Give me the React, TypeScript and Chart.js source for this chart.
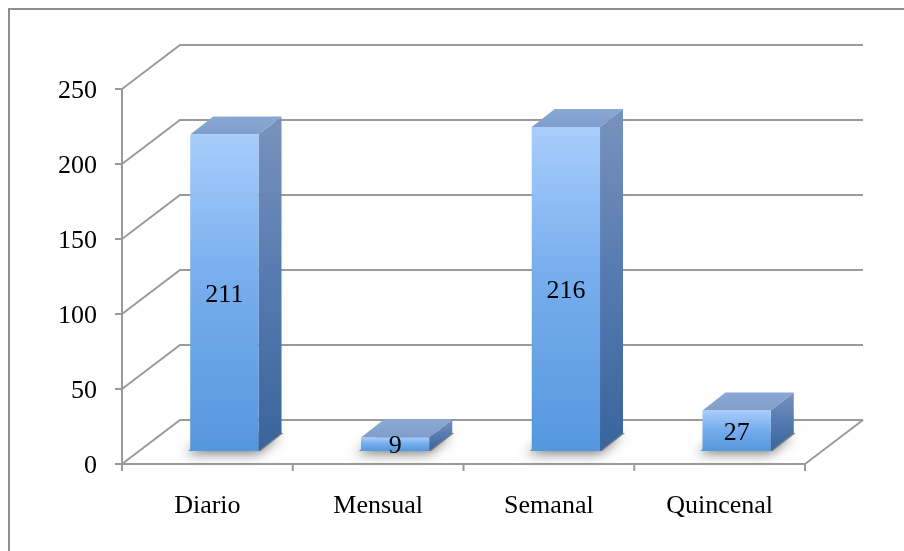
import React, { useEffect, useRef } from "react";
import { Chart, registerables } from "chart.js";

Chart.register(...registerables);

const categories = ["Diario", "Mensual", "Semanal", "Quincenal"];
const values = [211, 9, 216, 27];
const yTicks = [0, 50, 100, 150, 200, 250];

const FONT = '"Liberation Serif", "Times New Roman", serif';
const WALL_DX = 58;
const WALL_DY = 44;
const BAR_FX = 17;
const BAR_FY = 13;
const BAR_DX = 23;
const BAR_DY = 18;
const GRID = "#9a9a9a";

const threeD = {
  id: "threeD",
  beforeDatasetsDraw(chart: any) {
    const ctx = chart.ctx as CanvasRenderingContext2D;
    const a = chart.chartArea;
    const ys = chart.scales.y;
    const xs = chart.scales.x;
    ctx.save();
    // outer frame
    ctx.strokeStyle = "#8e8e8e";
    ctx.lineWidth = 2;
    ctx.beginPath();
    ctx.moveTo(9, 551);
    ctx.lineTo(9, 9);
    ctx.lineTo(904, 9);
    ctx.stroke();

    ctx.strokeStyle = GRID;
    ctx.lineWidth = 2;
    ctx.lineCap = "butt";
    // walls
    yTicks.forEach((t) => {
      const y = ys.getPixelForValue(t);
      ctx.beginPath();
      ctx.moveTo(a.left, y);
      ctx.lineTo(a.left + WALL_DX, y - WALL_DY);
      ctx.lineTo(a.right + WALL_DX, y - WALL_DY);
      ctx.stroke();
    });
    // floor right edge
    ctx.beginPath();
    ctx.moveTo(a.right, a.bottom);
    ctx.lineTo(a.right + WALL_DX, a.bottom - WALL_DY);
    ctx.stroke();
    // y axis line + ticks
    ctx.beginPath();
    ctx.moveTo(a.left, ys.getPixelForValue(yTicks[yTicks.length - 1]));
    ctx.lineTo(a.left, a.bottom);
    yTicks.forEach((t) => {
      const y = ys.getPixelForValue(t);
      ctx.moveTo(a.left - 7, y);
      ctx.lineTo(a.left, y);
    });
    ctx.stroke();
    // x axis line + ticks
    const half = (xs.getPixelForValue(1) - xs.getPixelForValue(0)) / 2;
    ctx.beginPath();
    ctx.moveTo(a.left - 7, a.bottom);
    ctx.lineTo(a.right, a.bottom);
    for (let i = 0; i <= categories.length; i++) {
      const x = xs.getPixelForValue(i) - half;
      ctx.moveTo(x, a.bottom);
      ctx.lineTo(x, a.bottom + 7);
    }
    ctx.stroke();

    // labels
    ctx.fillStyle = "#000";
    ctx.font = `26px ${FONT}`;
    ctx.textAlign = "right";
    ctx.textBaseline = "middle";
    yTicks.forEach((t) => {
      ctx.fillText(String(t), a.left - 25, ys.getPixelForValue(t) + 2);
    });
    ctx.textAlign = "center";
    categories.forEach((c, i) => {
      ctx.fillText(c, xs.getPixelForValue(i), a.bottom + 42);
    });
    ctx.restore();
  },
  afterDatasetsDraw(chart: any) {
    const ctx = chart.ctx as CanvasRenderingContext2D;
    const meta = chart.getDatasetMeta(0);
    ctx.save();
    meta.data.forEach((el: any, i: number) => {
      const p = el.getProps(["x", "y", "base", "width"], true);
      const w = p.width;
      const x0 = p.x - w / 2 + BAR_FX;
      const x1 = x0 + w;
      const yb = p.base - BAR_FY;
      const yt = p.y - BAR_FY;

      // shadow
      ctx.save();
      ctx.shadowColor = "rgba(0,0,0,0.5)";
      ctx.shadowBlur = 12;
      ctx.shadowOffsetX = -3;
      ctx.shadowOffsetY = 3;
      ctx.fillStyle = "rgba(130,130,130,1)";
      ctx.beginPath();
      ctx.moveTo(x0 - 2, yb);
      ctx.lineTo(x1 + 2, yb);
      ctx.lineTo(x1 + BAR_DX + 2, yb - BAR_DY);
      ctx.lineTo(x0 + BAR_DX - 2, yb - BAR_DY);
      ctx.closePath();
      ctx.fill();
      ctx.restore();

      // side face
      const gs = ctx.createLinearGradient(0, yt - BAR_DY, 0, yb);
      gs.addColorStop(0, "#7892bc");
      gs.addColorStop(0.5, "#557ab0");
      gs.addColorStop(1, "#39649c");
      ctx.fillStyle = gs;
      ctx.beginPath();
      ctx.moveTo(x1, yt);
      ctx.lineTo(x1 + BAR_DX, yt - BAR_DY);
      ctx.lineTo(x1 + BAR_DX, yb - BAR_DY);
      ctx.lineTo(x1, yb);
      ctx.closePath();
      ctx.fill();

      // top face
      const gt = ctx.createLinearGradient(0, yt - BAR_DY, 0, yt);
      gt.addColorStop(0, "#8aa8d3");
      gt.addColorStop(1, "#7f9ecb");
      ctx.fillStyle = gt;
      ctx.beginPath();
      ctx.moveTo(x0, yt);
      ctx.lineTo(x0 + BAR_DX, yt - BAR_DY);
      ctx.lineTo(x1 + BAR_DX, yt - BAR_DY);
      ctx.lineTo(x1, yt);
      ctx.closePath();
      ctx.fill();

      // front face
      const gf = ctx.createLinearGradient(0, yt, 0, yb);
      gf.addColorStop(0, "#a8cdfc");
      gf.addColorStop(0.45, "#77aeee");
      gf.addColorStop(1, "#5597dc");
      ctx.fillStyle = gf;
      ctx.fillRect(x0, yt, w, yb - yt);

      // value label
      ctx.fillStyle = "#000";
      ctx.font = `26px ${FONT}`;
      ctx.textAlign = "center";
      ctx.textBaseline = "middle";
      ctx.fillText(String(values[i]), (x0 + x1) / 2, (yt + yb) / 2 + 2);
    });
    ctx.restore();
  },
};

export default function App() {
  const ref = useRef<HTMLCanvasElement | null>(null);
  useEffect(() => {
    if (!ref.current) return;
    const chart = new Chart(ref.current, {
      type: "bar",
      data: {
        labels: categories,
        datasets: [
          {
            data: values,
            backgroundColor: "rgba(0,0,0,0)",
            borderWidth: 0,
            categoryPercentage: 0.4,
            barPercentage: 1,
          },
        ],
      },
      options: {
        responsive: false,
        animation: false,
        devicePixelRatio: 1,
        layout: { padding: { left: 122, right: 99, top: 89, bottom: 87 } },
        plugins: { legend: { display: false }, tooltip: { enabled: false } },
        scales: {
          x: { type: "category", display: false, offset: true },
          y: { type: "linear", display: false, min: 0, max: 250 },
        },
      },
      plugins: [threeD],
    });
    return () => chart.destroy();
  }, []);
  return (
    <div style={{ position: "fixed", left: 0, top: 0, width: 904, height: 551, background: "#fff" }}>
      <canvas ref={ref} width={904} height={551} style={{ display: "block" }} />
    </div>
  );
}
